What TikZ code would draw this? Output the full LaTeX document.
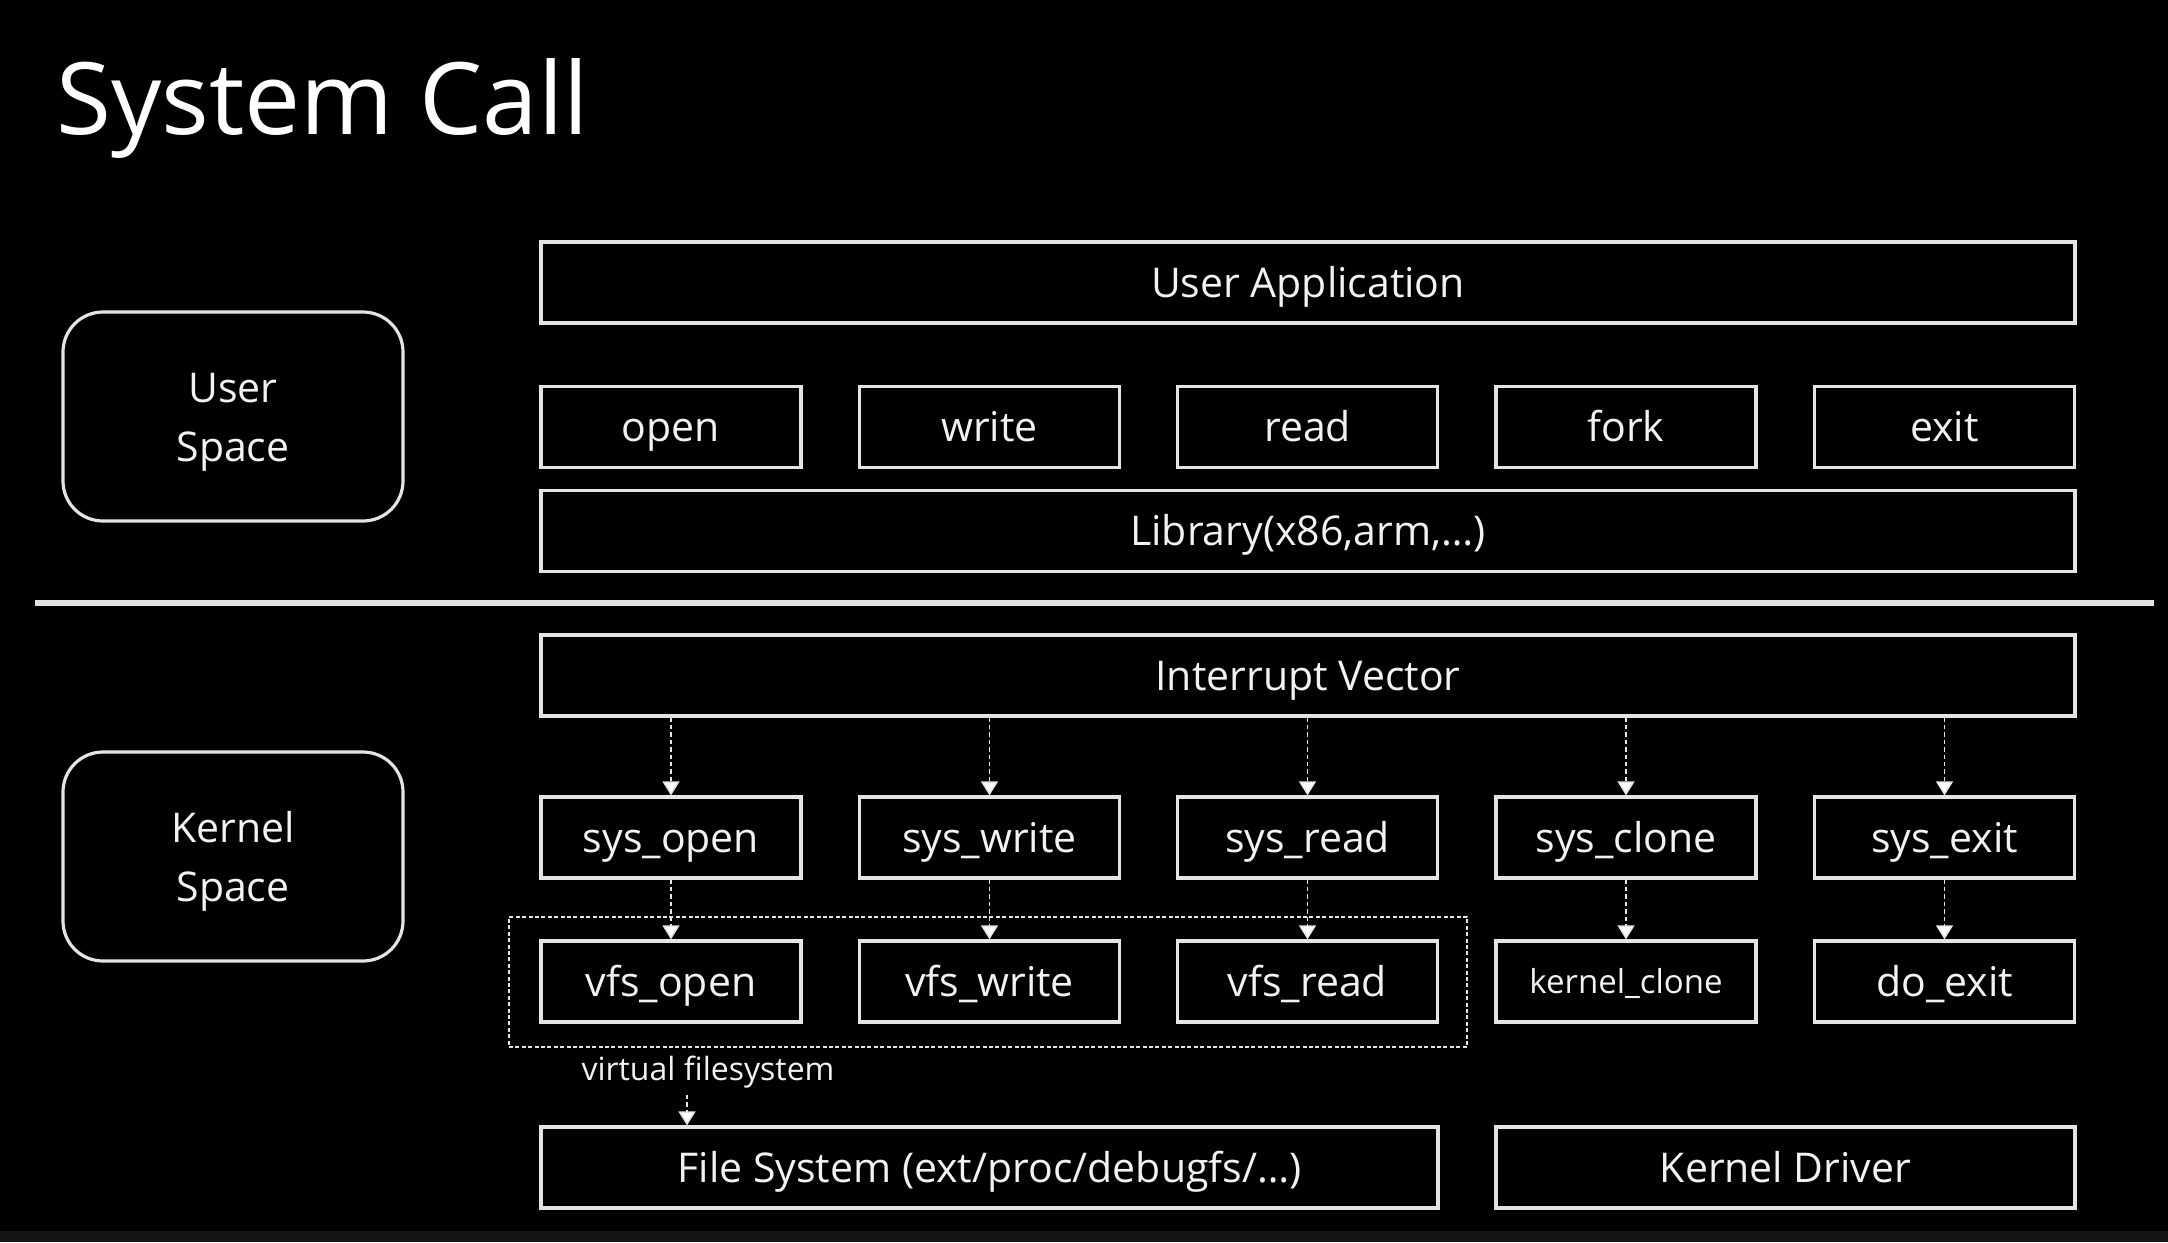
\documentclass[tikz,border=0pt]{standalone}
\usepackage{fontspec}
\setmainfont{Open Sans}
\usetikzlibrary{arrows.meta}
\definecolor{ln}{HTML}{E4E4E4}
\definecolor{tx}{HTML}{F2F2F2}
\definecolor{strip}{HTML}{151515}
\begin{document}
\begin{tikzpicture}[x=0.5pt,y=-0.5pt,
  box/.style={draw=ln, line width=1.6pt, text=tx, inner sep=0pt,
    font=\fontsize{20.5}{24}\selectfont, text height=14.6pt, text depth=0pt,
    minimum height=40.5pt},
  spacebox/.style={draw=ln, line width=1.6pt, rounded corners=20pt, text=tx,
    inner sep=0pt, align=center, font=\fontsize{20.5}{29.5}\selectfont,
    minimum width=170pt, minimum height=104.5pt},
  arr/.style={draw=ln, line width=0.75pt, dash pattern=on 2.2pt off 1.5pt,
    -{Triangle[width=8.5pt,length=7pt,fill=white]}},
  groupbox/.style={draw=ln, line width=1.2pt, dash pattern=on 2pt off 1.2pt,
    inner sep=0pt, minimum width=479pt, minimum height=65pt},
  lbl/.style={text=tx, inner sep=0pt, font=\fontsize{16}{19}\selectfont}
]
\useasboundingbox (0,0) rectangle (2168,1242);
\fill[black] (0,0) rectangle (2168,1242);
\fill[strip] (0,1231) rectangle (2168,1242);

\node[anchor=base west, inner sep=0pt, text=white, font=\fontsize{50}{58}\selectfont] (title) at (56,134) {System Call};

\node[spacebox] (userspace) at (233,416.5) {\rule{0pt}{20.9pt}User\\Space};
\node[spacebox] (kernelspace) at (233,856.5) {\rule{0pt}{20.9pt}Kernel\\Space};

\node[box, minimum width=767pt] (ua) at (1308,282.5) {User Application};
\node[box, minimum width=130pt] (open) at (671,427) {open};
\node[box, minimum width=130pt] (write) at (989.5,427) {write};
\node[box, minimum width=130pt] (read) at (1307.5,427) {read};
\node[box, minimum width=130pt] (fork) at (1626,427) {fork};
\node[box, minimum width=130pt] (exit) at (1944.5,427) {exit};
\node[box, minimum width=767pt] (lib) at (1308,531) {Library(x86,arm,…)};

\coordinate (sepL) at (35,603);
\coordinate (sepR) at (2154,603);
\draw[ln, line width=3.3pt] (sepL) -- (sepR);

\node[box, minimum width=767pt] (iv) at (1308,675.5) {Interrupt Vector};
\node[box, minimum width=130pt] (sysopen) at (671,837.5) {sys\_open};
\node[box, minimum width=130pt] (syswrite) at (989.5,837.5) {sys\_write};
\node[box, minimum width=130pt] (sysread) at (1307.5,837.5) {sys\_read};
\node[box, minimum width=130pt] (sysclone) at (1626,837.5) {sys\_clone};
\node[box, minimum width=130pt] (sysexit) at (1944.5,837.5) {sys\_exit};

\node[groupbox] (vfsgroup) at (988,982) {};
\node[box, minimum width=130pt] (vfsopen) at (671,981.5) {vfs\_open};
\node[box, minimum width=130pt] (vfswrite) at (989.5,981.5) {vfs\_write};
\node[box, minimum width=130pt] (vfsread) at (1307.5,981.5) {vfs\_read};
\node[box, minimum width=130pt, font=\fontsize{16.5}{20}\selectfont, text height=11.8pt] (kclone) at (1626,981.5) {kernel\_clone};
\node[box, minimum width=130pt] (doexit) at (1944.5,981.5) {do\_exit};

\node[lbl] (vfslabel) at (708,1072) {virtual filesystem};

\node[box, minimum width=448.5pt] (fs) at (989.5,1167.5) {File System (ext/proc/debugfs/…)};
\node[box, minimum width=289.5pt] (kd) at (1785.5,1167.5) {Kernel Driver};

\foreach \s in {sysopen,syswrite,sysread,sysclone,sysexit}
  \draw[arr] (\s.north |- iv.south) -- (\s.north);
\draw[arr] (sysopen.south) -- (vfsopen.north);
\draw[arr] (syswrite.south) -- (vfswrite.north);
\draw[arr] (sysread.south) -- (vfsread.north);
\draw[arr] (sysclone.south) -- (kclone.north);
\draw[arr] (sysexit.south) -- (doexit.north);

\coordinate (vfsfrom) at (687,1095);
\draw[arr] (vfsfrom) -- (vfsfrom |- fs.north);
\end{tikzpicture}
\end{document}
